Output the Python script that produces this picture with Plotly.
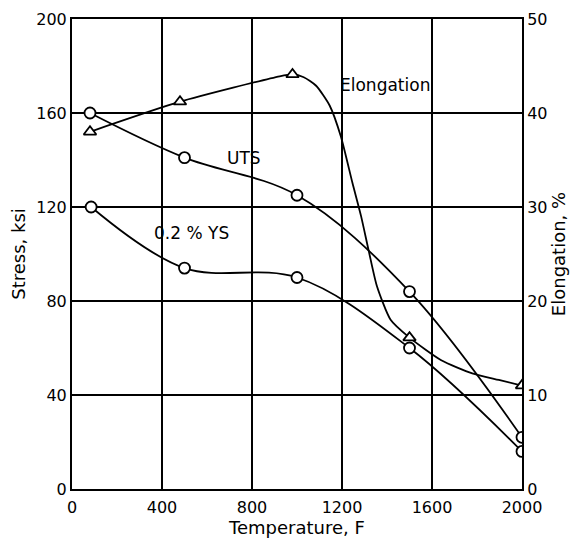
import plotly.graph_objects as go

# Measured points (Temperature, F)
temp_uts = [80, 500, 1000, 1500, 2000]
uts_ksi = [160, 141, 125, 84, 22]

temp_ys = [85, 500, 1000, 1500, 2000]
ys_ksi = [120, 94, 90, 60, 16]

temp_el = [80, 480, 980, 1500, 2000]
elong_pct = [38, 41.2, 44.1, 16.1, 11]

# Hand-drawn elongation curve
elong_curve_temp = [80, 480, 923, 980, 1030, 1085, 1145, 1195, 1246, 1285,
                    1320, 1355, 1416, 1500, 1641, 1779, 1897, 2000]
elong_curve_pct = [38, 41.2, 43.9, 44.1, 43.8, 42.9, 40.8, 37.5, 32.6, 29.0,
                   25.2, 21.6, 18.0, 16.1, 13.7, 12.3, 11.6, 11.0]

x_ticks = [0, 400, 800, 1200, 1600, 2000]
y_ticks = [0, 40, 80, 120, 160, 200]
y2_ticks = [0, 10, 20, 30, 40, 50]

FONT = "DejaVu Sans"
LW = 1.8

fig = go.Figure()

fig.add_trace(go.Scatter(
    x=temp_uts, y=uts_ksi, mode="lines+markers", name="UTS",
    line=dict(color="black", width=LW, shape="spline", smoothing=1.0),
    marker=dict(symbol="circle", size=11, color="white", line=dict(color="black", width=LW)),
))
fig.add_trace(go.Scatter(
    x=temp_ys, y=ys_ksi, mode="lines+markers", name="0.2 % YS",
    line=dict(color="black", width=LW, shape="spline", smoothing=1.0),
    marker=dict(symbol="circle", size=11, color="white", line=dict(color="black", width=LW)),
))
fig.add_trace(go.Scatter(
    x=elong_curve_temp, y=elong_curve_pct, mode="lines", name="Elongation curve", yaxis="y2",
    line=dict(color="black", width=LW, shape="spline", smoothing=0.6),
    hoverinfo="skip",
))
fig.add_trace(go.Scatter(
    x=temp_el, y=elong_pct, mode="markers", name="Elongation", yaxis="y2",
    marker=dict(symbol="triangle-up", size=11, color="white", line=dict(color="black", width=LW)),
))

ann_font = dict(family=FONT, size=17, color="black")
fig.add_annotation(x=1390, y=172, text="Elongation", showarrow=False, font=ann_font, xref="x", yref="y")
fig.add_annotation(x=764, y=141, text="UTS", showarrow=False, font=ann_font, xref="x", yref="y")
fig.add_annotation(x=530, y=109, text="0.2 % YS", showarrow=False, font=ann_font, xref="x", yref="y")

axis_common = dict(
    showline=True, linecolor="black", linewidth=2,
    ticks="", zeroline=False, automargin=False,
    tickfont=dict(family=FONT, size=16, color="black"),
    title_font=dict(family=FONT, size=18, color="black"),
)

fig.update_layout(
    width=575, height=536,
    margin=dict(l=64, r=61, t=11, b=55),
    paper_bgcolor="white", plot_bgcolor="white",
    showlegend=False,
    xaxis=dict(range=[0, 2000], tickvals=x_ticks, mirror=True,
               showgrid=True, gridcolor="black", gridwidth=1.6,
               ticklabelstandoff=3,
               title=dict(text="Temperature, F", standoff=2), **axis_common),
    yaxis=dict(range=[0, 200], tickvals=y_ticks, mirror=True,
               showgrid=True, gridcolor="black", gridwidth=1.6,
               title=dict(text="Stress, ksi", standoff=8), **axis_common),
    yaxis2=dict(range=[0, 50], tickvals=y2_ticks, overlaying="y", side="right",
                showgrid=False, title=dict(text="Elongation, %", standoff=6), **axis_common),
)

fig.write_html("out.html")
